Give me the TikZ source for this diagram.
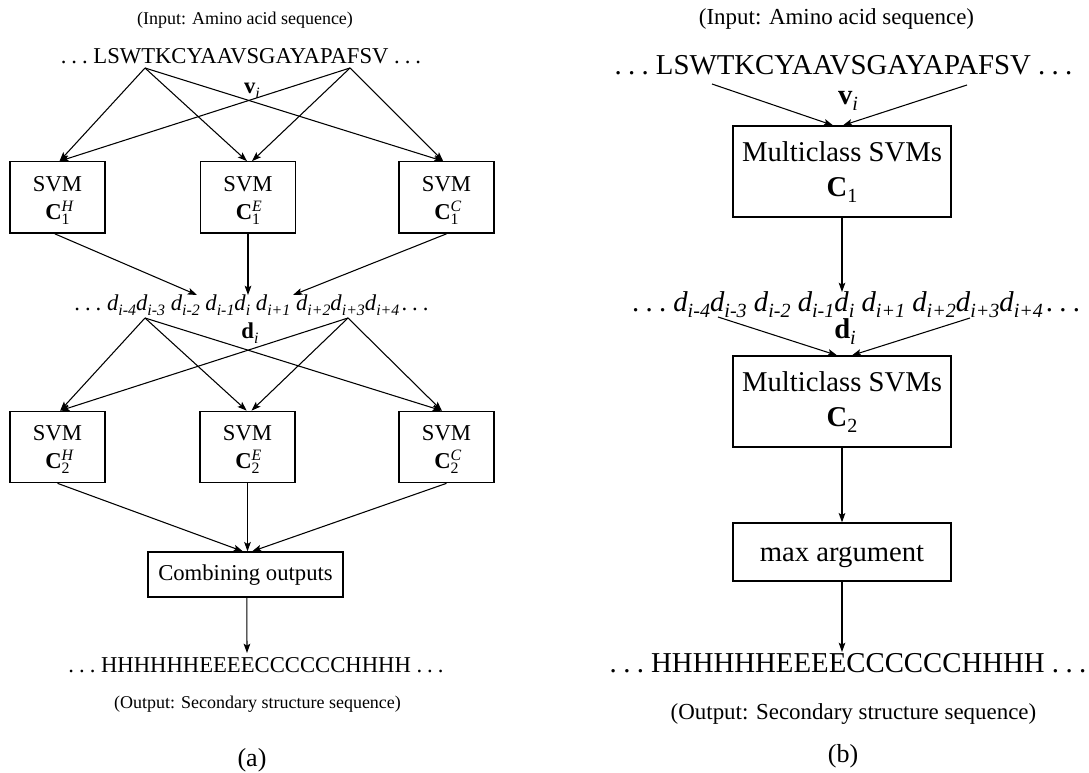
\documentclass[tikz,border=0pt]{standalone}
\usepackage{fontspec}
\setmainfont{Liberation Serif}
\usetikzlibrary{arrows.meta}
\makeatletter
\newcommand\subsz{\fontsize{\fpeval{0.7*\f@size}}{\fpeval{0.84*\f@size}}\selectfont}
\makeatother
\newcommand\dts{.\kern.22em.\kern.22em.}
\newcommand\Csup[2]{\textbf{C}\rlap{\raisebox{0.8ex}{\subsz\textit{#1}}}\raisebox{-0.4ex}{\subsz #2}}
\newcommand\Csub[1]{\textbf{C}\raisebox{-0.4ex}{\subsz #1}}
\newcommand\vb{\textbf{v}\raisebox{-0.45ex}{\subsz\textit{i}}}
\newcommand\dbi{\textbf{d}\raisebox{-0.45ex}{\subsz\textit{i}}}
\newcommand\dd[1]{\textit{d}\raisebox{-0.45ex}{\subsz\textit{#1}}}
\newcommand\drow{\dts\ \dd{i-4}\dd{i-3} \dd{i-2} \dd{i-1}\dd{i} \dd{i+1} \dd{i+2}\dd{i+3}\dd{i+4}\kern.1em\dts}
\begin{document}
\begin{tikzpicture}[x=0.75pt,y=-0.75pt,
  arr/.style={-{Stealth[length=7pt,width=5pt,inset=1.5pt]}, line width=0.8pt},
  txt/.style={anchor=base, inner sep=0pt},
  fa/.style={font=\fontsize{17}{21}\selectfont},
  fal/.style={font=\fontsize{13.5}{16}\selectfont},
  fb/.style={font=\fontsize{21.5}{26.5}\selectfont},
  fbs/.style={font=\fontsize{21.6}{26}\selectfont},
  fbl/.style={font=\fontsize{17.2}{20}\selectfont},
  capfont/.style={font=\fontsize{19.5}{23}\selectfont},
  svm/.style={draw, line width=1pt, inner sep=0pt, minimum width=71.25pt, minimum height=53.5pt, align=center, fa, text depth=0pt},
  mbox/.style={draw, line width=1pt, inner sep=0pt, minimum width=163.5pt, minimum height=68.25pt, align=center, fb, text depth=0pt},
]
\useasboundingbox (0,0) rectangle (1089,773);

% ---------------- (a) ----------------
\node[txt,fal] (inA) at (245,25) {(Input: Amino acid sequence)};
\node[txt,fa] (seqA) at (241,64) {\dts\ LSWTKCYAAVSGAYAPAFSV \dts};
\node[txt,fa] (vA) at (252,94) {\vb};
\coordinate (a1) at (145,68);
\coordinate (a2) at (350,68);

\node[svm, text height=33.75pt] (h1) at (57.5,197.5) {SVM\\\Csup{H}{1}};
\node[svm, text height=33.75pt] (e1) at (248,197.5) {SVM\\\Csup{E}{1}};
\node[svm, text height=33.75pt] (c1) at (446.5,197.5) {SVM\\\Csup{C}{1}};

\draw[arr] (a1) -- ([xshift=1.5pt]h1.north);
\draw[arr] (a2) -- ([xshift=1.5pt]h1.north);
\draw[arr] (a1) -- ([xshift=-0.75pt]e1.north);
\draw[arr] (a2) -- ([xshift=3pt]e1.north);
\draw[arr] (a1) -- ([xshift=-2.5pt]c1.north);
\draw[arr] (a2) -- ([xshift=-2.5pt]c1.north);

\node[txt,fa] (dA) at (251.5,311) {\drow};
\node[txt,fa] (diA) at (250,339) {\dbi};
\coordinate (t1) at (197,295);
\coordinate (t2) at (248,295);
\coordinate (t3) at (293,295);
\draw[arr] ([xshift=-2pt]h1.south) -- (t1);
\draw[arr] (e1.south) -- (t2);
\draw[arr] (c1.south) -- (t3);

\coordinate (b1) at (145,318);
\coordinate (b2) at (348,318);
\node[svm, text height=33pt] (h2) at (57.5,447) {SVM\\\Csup{H}{2}};
\node[svm, text height=33pt] (e2) at (247.5,447) {SVM\\\Csup{E}{2}};
\node[svm, text height=33pt] (c2) at (446.5,447) {SVM\\\Csup{C}{2}};
\draw[arr] (b1) -- ([xshift=2pt]h2.north);
\draw[arr] (b2) -- ([xshift=2pt]h2.north);
\draw[arr] (b1) -- ([xshift=-0.6pt]e2.north);
\draw[arr] (b2) -- ([xshift=3pt]e2.north);
\draw[arr] (b1) -- ([xshift=-3.5pt]c2.north);
\draw[arr] (b2) -- ([xshift=-3.5pt]c2.north);

\node[draw, line width=1pt, inner sep=0pt, minimum width=146.25pt, minimum height=33.75pt, fa, text height=8.25pt, text depth=0pt] (comb) at (245.5,574.5) {Combining outputs};
\draw[arr] (h2.south) -- ([xshift=-2pt]comb.north);
\draw[arr] (e2.south) -- ([xshift=1.5pt]comb.north);
\draw[arr] (c2.south) -- ([xshift=5pt]comb.north);

\coordinate (oA) at (247,653);
\draw[arr] ([xshift=1pt]comb.south) -- (oA);
\node[txt,fa] (outA) at (256,672) {\dts\ HHHHHHEEEECCCCCCHHHH \dts};
\node[txt,fal] (olA) at (257.5,708) {(Output: Secondary structure sequence)};
\node[txt,capfont] (capA) at (252,766) {(a)};

% ---------------- (b) ----------------
\node[txt,fbl] (inB) at (836.5,25) {(Input: Amino acid sequence)};
\node[txt,fbs] (seqB) at (843.5,75) {\dts\ LSWTKCYAAVSGAYAPAFSV \dts};
\node[txt,fb] (vB) at (848,105) {\vb};
\coordinate (c1s) at (712,84);
\coordinate (c2s) at (967,85);
\node[mbox, text height=38.25pt] (m1) at (842,171.5) {Multiclass SVMs\\\Csub{1}};
\draw[arr] (c1s) -- ([xshift=-6.75pt]m1.north);
\draw[arr] (c2s) -- ([xshift=0.75pt]m1.north);

\coordinate (dR) at (842,292);
\draw[arr] (m1.south) -- (dR);
\node[txt,fb] (dB) at (856,312) {\drow};
\node[txt,fb] (diB) at (845,339) {\dbi};
\coordinate (d1s) at (718,317);
\coordinate (d2s) at (970,318);
\node[mbox, text height=38.25pt] (m2) at (842,401.5) {Multiclass SVMs\\\Csub{2}};
\draw[arr] (d1s) -- ([xshift=-3.75pt]m2.north);
\draw[arr] (d2s) -- ([xshift=7.5pt]m2.north);

\node[draw, line width=1pt, inner sep=0pt, minimum width=163.5pt, minimum height=43.5pt, fb, text height=13.5pt, text depth=0pt] (mx) at (842,552) {max argument};
\draw[arr] (m2.south) -- (mx.north);
\coordinate (oB) at (842,652);
\draw[arr] (mx.south) -- (oB);
\node[txt,fbs] (outB) at (848,672) {\dts\ HHHHHHEEEECCCCCCHHHH \dts};
\node[txt,fbl] (olB) at (853.5,719) {(Output: Secondary structure sequence)};
\node[txt,capfont] (capB) at (843,762) {(b)};
\end{tikzpicture}
\end{document}
